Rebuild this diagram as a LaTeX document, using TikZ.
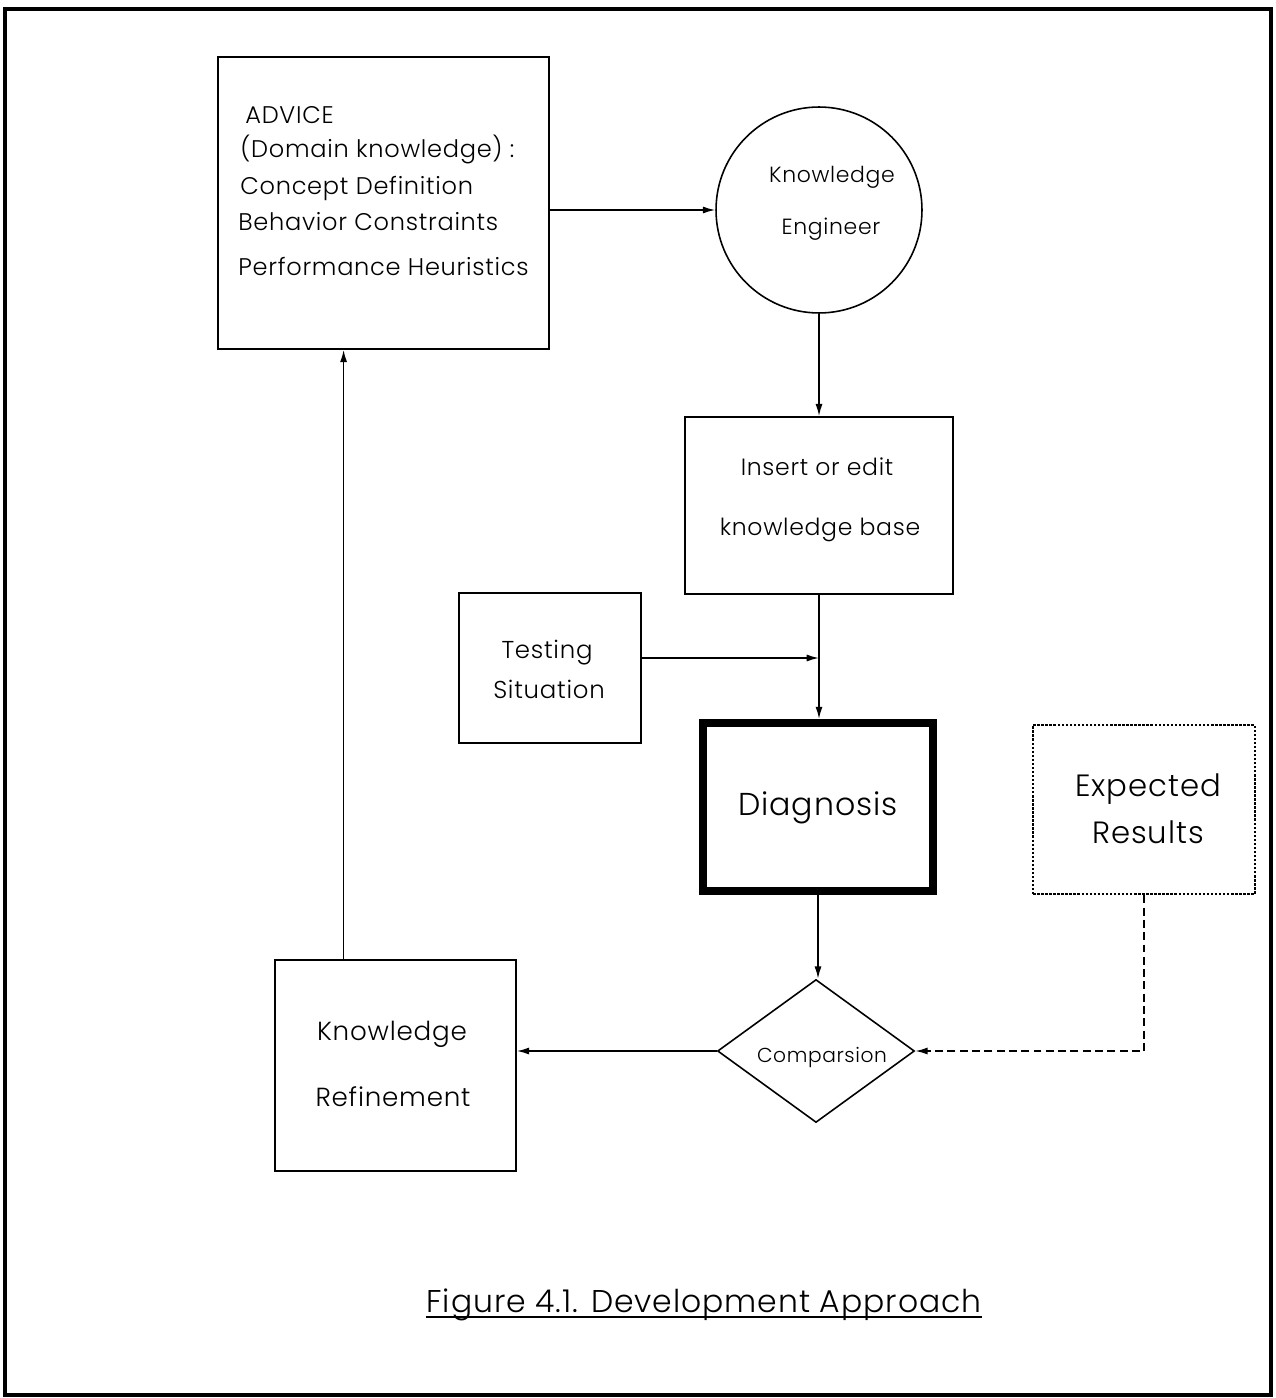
\documentclass[tikz,border=0pt]{standalone}
\usepackage{fontspec}
\setmainfont{Poppins}[UprightFont=* Light, LetterSpace=3]
\usetikzlibrary{shapes.geometric,arrows.meta,calc}
\begin{document}
\begin{tikzpicture}[x=0.02cm,y=-0.02cm,
  box/.style={draw, line width=0.9pt, inner sep=0pt, rectangle},
  lbl/.style={inner sep=0pt, anchor=base},
  lbll/.style={inner sep=0pt, anchor=base west},
  arr/.style={line width=0.9pt, -{Latex[length=7pt,width=4pt]}},
  fs/.style={font=\fontsize{#1}{#1}\selectfont},
]
\useasboundingbox (0,0) rectangle (1275,1398);
% page frame
\draw[line width=1.8pt] (5,9) rectangle (1271,1395);

% shapes
\node[box, minimum width=6.62cm, minimum height=5.84cm] (advice) at (383.5,203) {};
\node[draw, circle, line width=0.9pt, inner sep=0pt, minimum size=4.12cm] (ke) at (819,210) {};
\node[box, minimum width=5.36cm, minimum height=3.54cm] (insert) at (819,505.5) {};
\node[box, minimum width=3.64cm, minimum height=3.00cm] (testing) at (550,668) {};
\node[box, line width=4.5pt, minimum width=4.60cm, minimum height=3.36cm] (diag) at (818,807) {};
\node[box, line width=1.5pt, dash pattern=on 1.4pt off 0.9pt, minimum width=4.44cm, minimum height=3.38cm] (expected) at (1144,809.5) {};
\node[draw, diamond, line width=0.9pt, inner sep=0pt, minimum width=3.94cm, minimum height=2.86cm] (cmp) at (816,1051) {};
\node[box, minimum width=4.82cm, minimum height=4.22cm] (kr) at (395.5,1065.5) {};

% texts
\node[lbll, fs=13.7] (a1) at (245,124) {ADVICE};
\node[lbll, fs=13.7] (a2) at (240,158) {(Domain knowledge) :};
\node[lbll, fs=13.7] (a3) at (240,195) {Concept Definition};
\node[lbll, fs=13.7] (a4) at (238,231) {Behavior Constraints};
\node[lbll, fs=13.7] (a5) at (238,276) {Performance Heuristics};

\node[lbl, fs=12.5] (k1) at (832,183) {Knowledge};
\node[lbl, fs=12.5] (k2) at (831,235) {Engineer};

\node[lbl, fs=13.4] (i1) at (817,475) {Insert or edit};
\node[lbl, fs=13.4] (i2) at (820,535) {knowledge base};

\node[lbl, fs=13.9] (t1) at (547,658) {Testing};
\node[lbl, fs=13.9] (t2) at (549,698) {Situation};

\node[lbl, fs=18] (d1) at (818,815) {Diagnosis};

\node[lbl, fs=17.5] (e1) at (1148,796) {Expected};
\node[lbl, fs=17.5] (e2) at (1148,843) {Results};

\node[lbl, fs=11.5] (c1) at (822,1062) {Comparsion};

\node[lbl, fs=14.9] (r1) at (392,1040) {Knowledge};
\node[lbl, fs=14.9] (r2) at (393,1106) {Refinement};

\node[lbl, fs=17.9] (cap) at (704,1312) {Figure 4.1. Development Approach};
\draw[line width=1pt] ([yshift=-3pt]cap.base west) -- ([yshift=-3pt]cap.base east);

% connectors
\draw[arr] (advice.east |- ke) -- (ke.west);
\draw[arr] (ke.south) -- (ke.south |- insert.north);
\draw[arr] (insert.south) -- (insert.south |- diag.north);
\coordinate (tj) at (819,658);
\draw[arr] (testing.east |- tj) -- (tj);
\draw[arr] (diag.south) -- (diag.south |- cmp.north);
\draw[arr] (cmp.west) -- (cmp.west -| kr.east);
\draw[arr, dash pattern=on 4.5pt off 2.5pt] (expected.south) |- (cmp.east);
\coordinate (kup) at ($(kr.north west)!0.286!(kr.north east)$);
\draw[arr] (kup) -- (kup |- advice.south);
\end{tikzpicture}
\end{document}
